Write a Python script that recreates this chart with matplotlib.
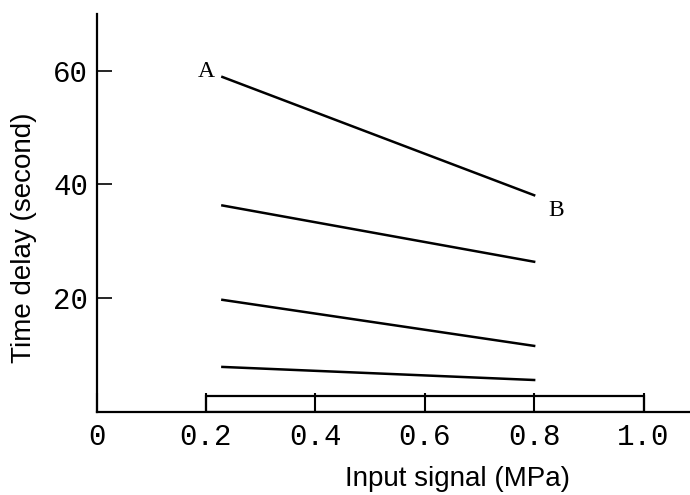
import matplotlib.pyplot as plt
from matplotlib.patches import Rectangle

# line endpoints
x_vals = [0.23, 0.80]
line_a = [58.9, 38.1]
line_2 = [36.3, 26.4]
line_3 = [19.7, 11.6]
line_4 = [7.9, 5.6]
lines = [line_a, line_2, line_3, line_4]

xticks = [0, 0.2, 0.4, 0.6, 0.8, 1.0]
xtick_labels = ["0", "0.2", "0.4", "0.6", "0.8", "1.0"]
yticks = [20, 40, 60]

# input signal range bar
bar_x = [0.2, 1.0]
bar_h = 2.7

fig = plt.figure(figsize=(6.9, 4.95), dpi=100)
ax = fig.add_axes([0.14, 0.168, 0.86, 0.804])

for ys in lines:
    ax.plot(x_vals, ys, color="black", lw=1.8)

ax.add_patch(Rectangle((bar_x[0], 0), bar_x[1] - bar_x[0], bar_h,
                       fill=False, edgecolor="black", lw=1.6))

ax.text(0.2, 59.8, "A", family="Liberation Serif", fontsize=17, ha="center", va="center")
ax.text(0.84, 35.4, "B", family="Liberation Serif", fontsize=17, ha="center", va="center")

ax.set_xlim(0, 1.085)
ax.set_ylim(0, 70)
ax.set_xticks(xticks)
ax.set_xticklabels(xtick_labels)
ax.set_yticks(yticks)

for lab in ax.get_xticklabels() + ax.get_yticklabels():
    lab.set_family("Liberation Mono")
    lab.set_fontsize(21)

ax.tick_params(axis="x", direction="in", length=14, width=1.5, pad=8)
ax.tick_params(axis="y", direction="in", length=11, width=1.2, pad=6)

ax.spines["top"].set_visible(False)
ax.spines["right"].set_visible(False)
ax.spines["left"].set_linewidth(1.6)
ax.spines["bottom"].set_linewidth(1.6)

ax.set_xlabel("Input signal (MPa)", family="Liberation Sans", fontsize=20)
ax.set_ylabel("Time delay (second)", family="Liberation Sans", fontsize=20)
ax.xaxis.set_label_coords(0.608, -0.135)
ax.yaxis.set_label_coords(-0.100, 0.437)

fig.savefig("out.png")
